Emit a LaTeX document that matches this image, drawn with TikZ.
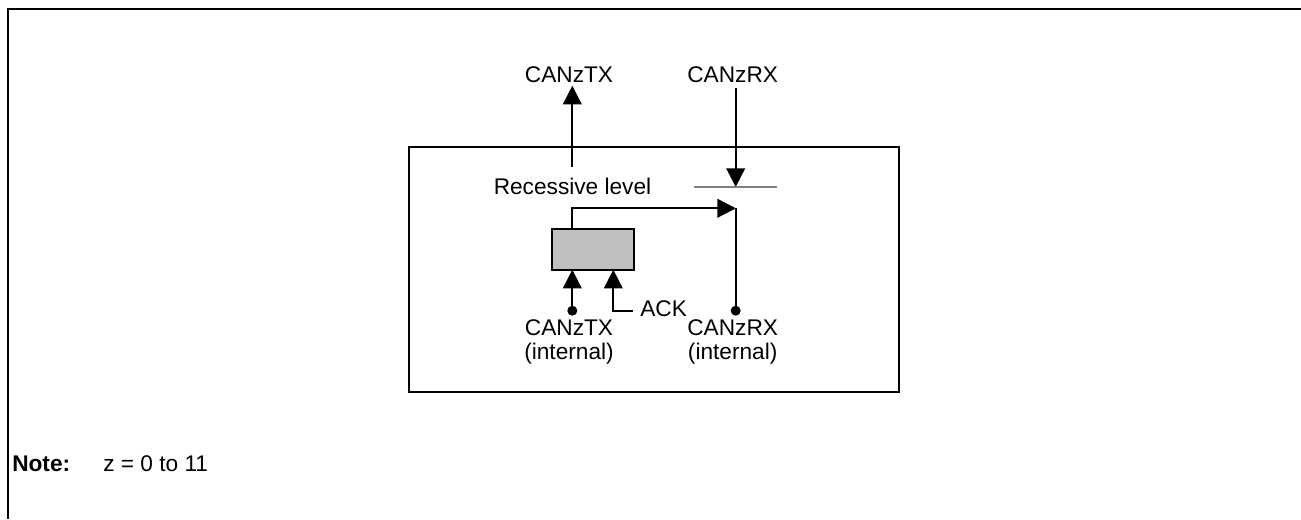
\documentclass[tikz,border=0pt]{standalone}
\usepackage{fontspec}
\setmainfont{Liberation Sans}
\usetikzlibrary{arrows.meta}
\tikzset{
  lbl/.style={inner sep=0pt,anchor=base,font=\fontsize{17}{18}\selectfont},
  frameline/.style={line width=1.6pt},
  conn/.style={line width=1.4pt},
  arr/.style={conn,-{Triangle[length=14pt,width=14pt]},shorten >=-0.2pt},
  dotn/.style={circle,fill=black,draw=none,minimum size=7.5pt,inner sep=0pt},
  block/.style={draw=black,fill=gray!50!white,line width=1.4pt,inner sep=0pt,minimum width=61.5pt,minimum height=30.7pt},
  outerbox/.style={draw=black,line width=1.4pt,inner sep=0pt,minimum width=367.5pt,minimum height=184pt}
}
\begin{document}
\begin{tikzpicture}[x=0.75pt,y=-0.75pt]
\useasboundingbox (0,0) rectangle (1301,519);
% frame
\coordinate (fbl) at (8,519);
\coordinate (ftl) at (8,9);
\coordinate (ftr) at (1301,9);
\draw[frameline] (fbl) -- (ftl) -- (ftr);
% outer box
\node[outerbox] (outer) at (654,269.5) {};
% gray block
\node[block] (blk) at (592.8,249.5) {};
% labels
\node[lbl] (txtop) at (569,82.7) {CANzTX};
\node[lbl] (rxtop) at (732.7,82.7) {CANzRX};
\node[lbl] (rec) at (572.5,194.3) {Recessive level};
\node[lbl,anchor=base west] (ack) at (640,316) {ACK};
\node[lbl] (txint) at (569,335.7) {CANzTX};
\node[lbl] (txint2) at (569,359.5) {(internal)};
\node[lbl] (rxint) at (732.7,335.7) {CANzRX};
\node[lbl] (rxint2) at (732.7,359.5) {(internal)};
\node[lbl,anchor=base west] (note) at (12,471.7) {\bfseries Note:};
\node[lbl,anchor=base west] (notez) at (103,471.7) {z = 0 to 11};
% dots
\node[dotn] (dtx) at (572.3,310.7) {};
\node[dotn] (drx) at (735.7,310.7) {};
% helper coordinates
\coordinate (txstart) at (572.3,166.7);
\coordinate (txtip) at (572.3,86);
\coordinate (rxstart) at (735.7,88);
\coordinate (rxtip) at (735.7,186.7);
\coordinate (barl) at (694,187.3);
\coordinate (barr) at (777,187.3);
\coordinate (blktop) at (572.3,229);
\coordinate (corner) at (572.3,208.3);
\coordinate (swtip) at (735.7,208.3);
\coordinate (blktx) at (572.3,270);
\coordinate (blkack) at (613.3,270);
\coordinate (ackcorner) at (613.3,310.7);
\coordinate (ackend) at (632.7,310.7);
% connectors
\draw[arr] (txstart) -- (txtip);
\draw[arr] (rxstart) -- (rxtip);
\draw[draw=gray,line width=1.3pt] (barl) -- (barr);
\draw[arr] (blktop) -- (corner) -- (swtip);
\draw[conn] (swtip) -- (drx.center);
\draw[arr] (dtx.center) -- (blktx);
\draw[arr] (ackend) -- (ackcorner) -- (blkack);
\end{tikzpicture}
\end{document}
